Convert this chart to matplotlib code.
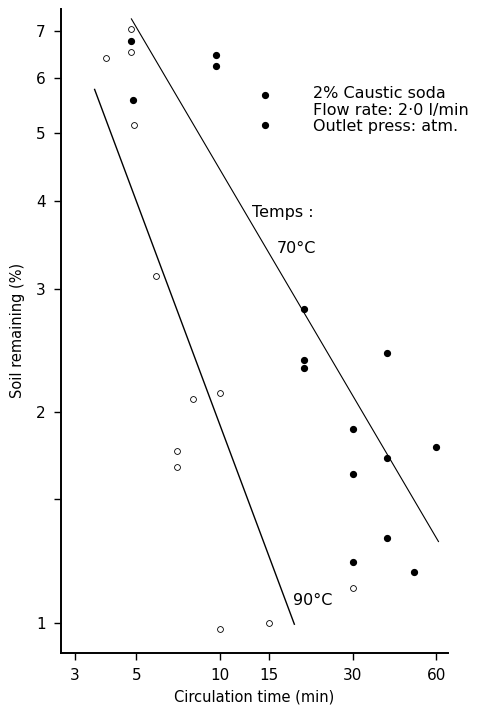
import numpy as np
import matplotlib
matplotlib.use("Agg")
import matplotlib.pyplot as plt

# Datos (tiempo en min, suelo remanente en %)
t_90 = [3.9, 4.8, 4.8, 4.9, 5.9, 7.0, 7.0, 8.0, 10, 10, 15, 30]
s_90 = [6.4, 7.04, 6.54, 5.14, 3.13, 1.76, 1.67, 2.09, 2.13, 0.978, 1.0, 1.12]

t_70 = [4.8, 4.85, 9.65, 9.65, 14.5, 14.5, 20, 20, 20, 40, 30, 60, 40, 30, 40, 30, 50]
s_70 = [6.77, 5.58, 6.47, 6.25, 5.67, 5.14, 2.81, 2.37, 2.31, 2.43, 1.89, 1.78, 1.72, 1.63, 1.32, 1.22, 1.18]

# Rectas de ajuste (extremos)
linea_70_t = [4.8, 61]
linea_70_s = [7.29, 1.306]
linea_90_t = [3.54, 18.5]
linea_90_s = [5.78, 0.995]

xticks = [3, 5, 10, 15, 30, 60]
yticks = [1, 1.5, 2, 3, 4, 5, 6, 7]
ytick_labels = ["1", "", "2", "3", "4", "5", "6", "7"]

fig = plt.figure(figsize=(4.88, 7.12), dpi=100)
ax = fig.add_axes([0.125, 0.0833, 0.793, 0.904])

ax.set_xscale("log")
ax.set_yscale("log")

ax.plot(linea_70_t, linea_70_s, color="black", lw=0.8)
ax.plot(linea_90_t, linea_90_s, color="black", lw=1.0)

ax.plot(t_90, s_90, "o", mfc="white", mec="black", mew=0.6, ms=4.2, ls="none")
ax.plot(t_70, s_70, "o", color="black", ms=4.2, ls="none")

ax.set_xlim(2.68, 66)
ax.set_ylim(0.906, 7.53)

ax.minorticks_off()
ax.set_xticks(xticks)
ax.set_xticklabels([str(v) for v in xticks])
ax.set_yticks(yticks)
ax.set_yticklabels(ytick_labels)
ax.tick_params(axis="both", direction="out", length=5, width=1, labelsize=11, pad=6)

for lado in ["top", "right"]:
    ax.spines[lado].set_visible(False)
ax.spines["left"].set_linewidth(1.4)
ax.spines["bottom"].set_linewidth(1.4)

ax.set_xlabel("Circulation time (min)", fontsize=10.5, labelpad=5)
ax.set_ylabel("Soil remaining (%)", fontsize=10.5, labelpad=8)

# Anotaciones
ax.text(21.6, 5.40, "2% Caustic soda\nFlow rate: 2·0 l/min\nOutlet press: atm.",
        fontsize=11.5, va="center", ha="left", linespacing=1.1)
ax.text(13.0, 3.86, "Temps :", fontsize=11.5, va="center", ha="left")
ax.text(16.0, 3.43, "70°C", fontsize=11.5, va="center", ha="left")
ax.text(18.3, 1.075, "90°C", fontsize=11.5, va="center", ha="left")

fig.savefig("out.png", dpi=100)
